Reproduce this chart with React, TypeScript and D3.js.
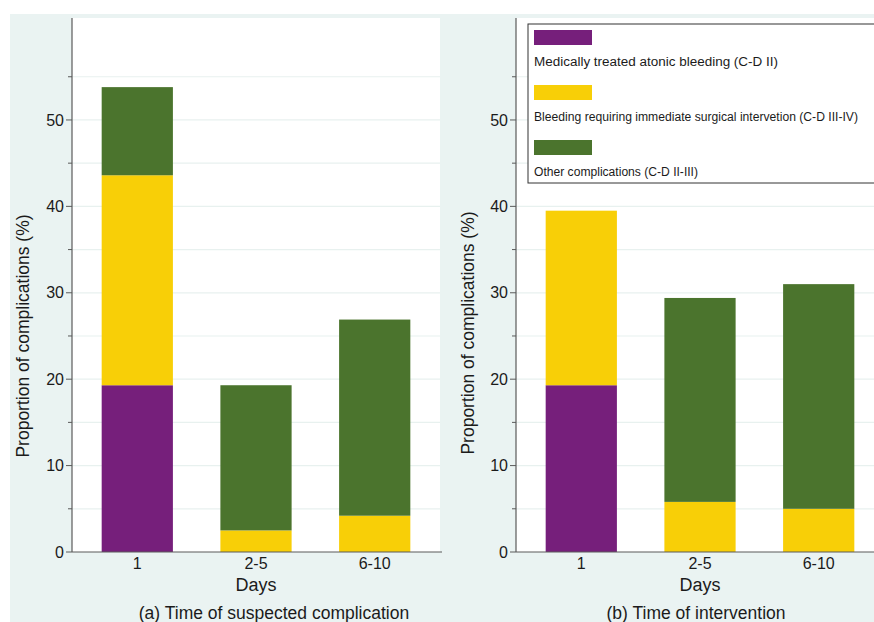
import React from "react";
import * as d3 from "d3";

// categories and series
const days = ["1", "2-5", "6-10"];
const seriesNames = [
  "Medically treated atonic bleeding (C-D II)",
  "Bleeding requiring immediate surgical intervetion (C-D III-IV)",
  "Other complications (C-D II-III)",
];
const seriesColors = ["#761f7b", "#f8cf07", "#4b742d"];

// (a) time of suspected complication
const medicalA = [19.3, 0, 0];
const surgicalA = [24.3, 2.5, 4.2];
const otherA = [10.2, 16.8, 22.7];

// (b) time of intervention
const medicalB = [19.3, 0, 0];
const surgicalB = [20.2, 5.8, 5.0];
const otherB = [0, 23.6, 26.0];

const majorTicks = [0, 10, 20, 30, 40, 50];
const minorTicks = [5, 15, 25, 35, 45, 55];
const gridValues = [5, 10, 15, 20, 25, 30, 35, 40, 45, 50, 55];

const W = 874;
const H = 622;
const plotTop = 18;
const plotBottom = 552;
const plotW = 368;
const font = "'Liberation Sans', Arial, sans-serif";
const textColor = "#1b1b1b";
const axisColor = "#5a5a5a";

const y = d3.scaleLinear().domain([0, 61.8]).range([plotBottom, plotTop]);

function Panel({ left, medical, surgical, other, title, titleX, labelX, labelY }) {
  const x = d3
    .scaleBand()
    .domain(days)
    .range([left, left + plotW])
    .paddingInner(0.4)
    .paddingOuter(0.25);

  const rows = days.map((d, i) => ({ day: d, s0: medical[i], s1: surgical[i], s2: other[i] }));
  const stack = d3.stack().keys(["s0", "s1", "s2"]);
  const layers = stack(rows);

  return (
    <g>
      <rect x={left} y={plotTop} width={plotW} height={plotBottom - plotTop} fill="#ffffff" />
      {gridValues.map((v) => (
        <line key={"g" + v} x1={left} x2={left + plotW} y1={y(v)} y2={y(v)} stroke="#e8f1ef" strokeWidth={1.2} />
      ))}
      {layers.map((layer, li) =>
        layer.map((seg, i) =>
          seg[1] - seg[0] > 0 ? (
            <rect
              key={li + "-" + i}
              x={x(days[i])}
              y={y(seg[1])}
              width={x.bandwidth()}
              height={y(seg[0]) - y(seg[1])}
              fill={seriesColors[li]}
            />
          ) : null
        )
      )}
      {/* y axis */}
      <line x1={left} x2={left} y1={plotTop} y2={plotBottom} stroke={axisColor} strokeWidth={1.2} />
      {majorTicks.map((t) => (
        <g key={"t" + t}>
          <line x1={left - 6} x2={left} y1={y(t)} y2={y(t)} stroke={axisColor} strokeWidth={1} />
          <text
            x={left - 8}
            y={y(t)}
            dy="0.35em"
            textAnchor="end"
            fontSize={16}
            fontFamily={font}
            fill={textColor}
          >
            {t}
          </text>
        </g>
      ))}
      {minorTicks.map((t) => (
        <line key={"m" + t} x1={left - 4} x2={left} y1={y(t)} y2={y(t)} stroke={axisColor} strokeWidth={1} />
      ))}
      {/* x axis */}
      <line x1={left} x2={left + plotW + 2} y1={plotBottom} y2={plotBottom} stroke={axisColor} strokeWidth={1.2} />
      {days.map((d) => (
        <text
          key={"x" + d}
          x={x(d) + x.bandwidth() / 2}
          y={569}
          textAnchor="middle"
          fontSize={16}
          fontFamily={font}
          fill={textColor}
        >
          {d}
        </text>
      ))}
      <text x={left + plotW / 2} y={591} textAnchor="middle" fontSize={18} fontFamily={font} fill={textColor}>
        Days
      </text>
      <text x={titleX} y={619} textAnchor="middle" fontSize={17.5} fontFamily={font} fill={textColor}>
        {title}
      </text>
      <text
        transform={`translate(${labelX},${labelY}) rotate(-90)`}
        textAnchor="middle"
        dy="0.35em"
        fontSize={17.5}
        fontFamily={font}
        fill={textColor}
      >
        Proportion of complications (%)
      </text>
    </g>
  );
}

function Legend() {
  const lx = 528;
  const rows = [
    { sy: 30, ty: 66, len: 244 },
    { sy: 85, ty: 121, len: 324 },
    { sy: 140, ty: 176, len: 164 },
  ];
  return (
    <g>
      <rect x={lx} y={24} width={370} height={159} fill="#ffffff" stroke="#333333" strokeWidth={1} />
      {seriesNames.map((name, i) => (
        <g key={name}>
          <rect x={534} y={rows[i].sy} width={58} height={15} fill={seriesColors[i]} />
          <text
            x={534}
            y={rows[i].ty}
            fontSize={12.5}
            fontFamily={font}
            fill={textColor}
            textLength={rows[i].len}
            lengthAdjust="spacingAndGlyphs"
          >
            {name}
          </text>
        </g>
      ))}
    </g>
  );
}

export default function App() {
  return (
    <svg
      width={W}
      height={H}
      style={{ position: "absolute", left: 0, top: 0, background: "#ffffff" }}
    >
      <rect x={10} y={14} width={W - 10} height={H - 14} fill="#eaf3f2" />
      <Panel
        left={72}
        medical={medicalA}
        surgical={surgicalA}
        other={otherA}
        title="(a) Time of suspected complication"
        titleX={274}
        labelX={23}
        labelY={336}
      />
      <Panel
        left={516}
        medical={medicalB}
        surgical={surgicalB}
        other={otherB}
        title="(b) Time of intervention"
        titleX={696}
        labelX={468}
        labelY={333}
      />
      <Legend />
    </svg>
  );
}
